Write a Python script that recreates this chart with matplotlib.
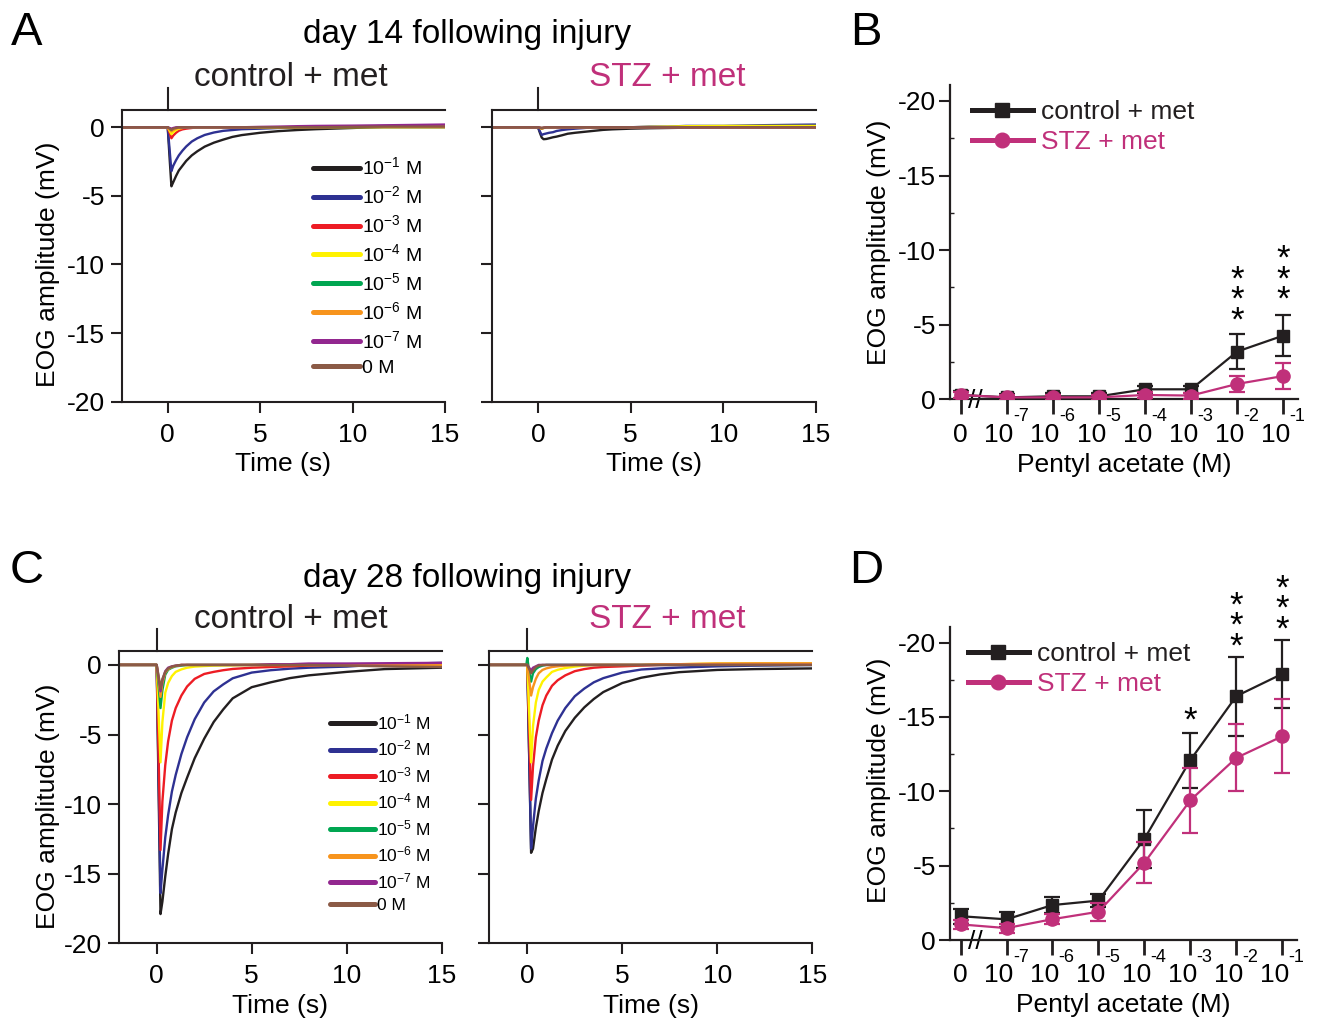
import matplotlib
matplotlib.use('Agg')
import matplotlib.pyplot as plt
from matplotlib import transforms
from matplotlib.lines import Line2D

plt.rcParams['font.family'] = ['Liberation Sans', 'DejaVu Sans']
plt.rcParams['axes.unicode_minus'] = False
plt.rcParams['mathtext.fontset'] = 'custom'
plt.rcParams['mathtext.rm'] = 'Liberation Sans'
plt.rcParams['mathtext.it'] = 'Liberation Sans'
plt.rcParams['mathtext.default'] = 'regular'

# ---------------- data ----------------
conc_legend = ['10$^{-1}$ M', '10$^{-2}$ M', '10$^{-3}$ M', '10$^{-4}$ M',
               '10$^{-5}$ M', '10$^{-6}$ M', '10$^{-7}$ M', '0 M']
t_trace = [-2.5, -0.05, 0.0, 0.1, 0.2, 0.3, 0.45, 0.6, 0.8, 1.0, 1.3, 1.6,
           2.0, 2.5, 3.0, 3.5, 4.0, 5.0, 6.0, 7.0, 8.0, 10.0, 12.0, 15.0]
stim_time = 0.0
time_ticks = [0, 5, 10, 15]
amp_ticks = [0, -5, -10, -15, -20]

# day 14, control + met (mV), one list per concentration 10^-1 ... 0 M
d14_ctrl = [
    [0, 0, 0, -2.2, -4.3, -4.0, -3.55, -3.15, -2.8, -2.45, -2.05, -1.75, -1.41, -1.12, -0.9, -0.7, -0.57, -0.4, -0.28, -0.2, -0.14, -0.05, 0.05, 0.1],
    [0, 0, 0, -1.6, -3.2, -2.8, -2.4, -2.05, -1.7, -1.4, -1.04, -0.8, -0.56, -0.38, -0.26, -0.2, -0.14, -0.1, -0.05, 0.0, 0.0, 0.05, 0.1, 0.1],
    [0, 0, 0, -0.4, -0.8, -0.6, -0.4, -0.25, -0.15, -0.1, -0.05, 0, 0, 0, 0, 0, 0, 0, 0, 0, 0, 0.05, 0.05, 0.05],
    [0, 0, 0, -0.25, -0.5, -0.35, -0.2, -0.1, -0.05, 0, 0, 0, 0, 0, 0, 0, 0, 0, 0, 0, 0.03, 0.05, 0.05, 0.05],
    [0, 0, 0, -0.08, -0.15, -0.1, -0.05, 0, 0, 0, 0, 0, 0, 0, 0, 0, 0, 0, 0, 0, 0, 0, 0, 0],
    [0, 0, 0, -0.15, -0.3, -0.2, -0.1, -0.05, 0, 0, 0, 0, 0, 0, 0, 0, 0, 0, 0, 0, 0, 0, 0, 0],
    [0, 0, 0, -0.05, -0.1, -0.05, 0, 0, 0, 0, 0, 0, 0, 0, 0, 0, 0, 0.03, 0.05, 0.08, 0.1, 0.12, 0.15, 0.2],
    [0, 0, 0, -0.1, -0.2, -0.1, -0.05, 0, 0, 0, 0, 0, 0, 0, 0, 0, 0, 0, 0, 0, 0, 0.03, 0.05, 0.05],
]
# day 14, STZ + met
d14_stz = [
    [0, 0, 0, -0.4, -0.75, -0.87, -0.85, -0.8, -0.73, -0.68, -0.58, -0.47, -0.4, -0.33, -0.26, -0.19, -0.15, -0.1, -0.07, -0.05, -0.03, 0, 0, 0],
    [0, 0, 0, -0.3, -0.56, -0.5, -0.45, -0.4, -0.36, -0.27, -0.2, -0.15, -0.1, -0.05, 0, 0, 0, 0, 0.05, 0.05, 0.1, 0.1, 0.15, 0.2],
    [0, 0, 0, -0.05, -0.1, -0.05, 0, 0, 0, 0, 0, 0, 0, 0, 0, 0, 0, 0, 0, 0, 0, 0, 0, 0],
    [0, 0, 0, -0.05, -0.1, -0.05, 0, 0, 0, 0, 0, 0, 0, 0, 0, 0, 0, 0, 0.03, 0.05, 0.08, 0.1, 0.1, 0.1],
    [0, 0, 0, -0.03, -0.05, -0.03, 0, 0, 0, 0, 0, 0, 0, 0, 0, 0, 0, 0, 0, 0, 0, 0, 0, 0],
    [0, 0, 0, -0.03, -0.05, -0.03, 0, 0, 0, 0, 0, 0, 0, 0, 0, 0, 0, 0, 0, 0, 0, 0, 0, 0],
    [0, 0, 0, -0.03, -0.05, -0.03, 0, 0, 0, 0, 0, 0, 0, 0, 0, 0, 0, 0, 0, 0, 0, 0, 0, 0],
    [0, 0, 0, -0.05, -0.08, -0.05, 0, 0, 0, 0, 0, 0, 0, 0, 0, 0, 0, 0, 0, 0, 0, 0, 0, 0],
]
# day 28, control + met
d28_ctrl = [
    [0, 0, 0, -9.0, -17.9, -17.0, -15.2, -13.6, -11.8, -10.6, -9.2, -8.1, -6.7, -5.3, -4.1, -3.2, -2.4, -1.6, -1.25, -0.95, -0.75, -0.5, -0.3, -0.2],
    [0, 0, 0, -8.0, -16.4, -14.7, -12.4, -10.8, -9.1, -7.9, -6.4, -5.2, -3.9, -2.7, -1.9, -1.4, -0.96, -0.55, -0.38, -0.27, -0.2, -0.12, 0.05, 0.15],
    [0, 0, 0, -6.5, -13.3, -9.8, -7.2, -5.5, -4.0, -3.1, -2.2, -1.55, -1.0, -0.65, -0.5, -0.38, -0.29, -0.2, -0.15, -0.1, -0.05, 0.0, 0.0, 0.05],
    [0, 0, 0, -3.5, -7.0, -4.1, -2.0, -1.3, -0.8, -0.5, -0.32, -0.2, -0.12, -0.08, -0.05, -0.04, -0.03, 0, 0, 0, 0, 0, 0, 0],
    [0, 0, 0, -1.5, -3.1, -1.8, -0.7, -0.35, -0.2, -0.1, -0.05, 0, 0, 0, 0, 0, 0, 0, 0, 0, 0, 0, 0, 0],
    [0, 0, 0, -1.1, -2.3, -1.3, -0.55, -0.3, -0.15, -0.08, 0, 0, 0, 0, 0, 0, 0, 0, 0, 0, 0, 0, 0, 0],
    [0, 0, 0, -0.9, -1.9, -1.1, -0.45, -0.2, -0.1, -0.05, 0, 0, 0, 0, 0, 0, 0, 0, 0.05, 0.05, 0.1, 0.1, 0.12, 0.15],
    [0, 0, 0, -0.8, -1.7, -1.0, -0.5, -0.25, -0.12, -0.05, 0, 0, 0, 0, 0, 0, 0, 0, 0, 0, 0, -0.05, -0.1, -0.15],
]
# day 28, STZ + met
d28_stz = [
    [0, 0, 0, -6.7, -13.5, -13.2, -11.7, -10.5, -9.2, -8.2, -6.8, -5.8, -4.75, -3.8, -3.05, -2.45, -1.95, -1.3, -0.92, -0.68, -0.52, -0.36, -0.3, -0.25],
    [0, 0, 0, -6.5, -13.2, -11.6, -9.6, -8.3, -6.9, -6.0, -4.9, -4.0, -3.1, -2.25, -1.7, -1.25, -0.95, -0.55, -0.33, -0.25, -0.19, -0.1, -0.05, 0.0],
    [0, 0, 0, -4.8, -9.7, -7.3, -5.2, -4.0, -2.9, -2.2, -1.5, -1.1, -0.75, -0.45, -0.3, -0.2, -0.15, -0.1, -0.05, 0.0, 0.0, 0.05, 0.1, 0.1],
    [0, 0, 0, -3.5, -7.0, -4.4, -2.7, -1.8, -1.2, -0.9, -0.5, -0.35, -0.22, -0.12, -0.05, 0, 0, 0, 0, 0.05, 0.05, 0.1, 0.1, 0.1],
    [0, 0, 0.5, -0.5, -1.2, -0.6, -0.3, -0.15, -0.05, 0, 0, 0, 0, 0, 0, 0, 0, 0, 0, 0, 0, 0, 0, 0],
    [0, 0, 0, -1.1, -2.2, -1.6, -1.0, -0.6, -0.36, -0.25, -0.15, -0.1, -0.05, 0, 0, 0, 0, 0, 0, 0.05, 0.05, 0.1, 0.1, 0.1],
    [0, 0, 0, -0.2, -0.4, -0.2, -0.1, 0, 0, 0, 0, 0, 0, 0, 0, 0, 0, 0, 0, 0, 0, 0, 0, 0],
    [0, 0, 0, -0.3, -0.6, -0.4, -0.15, -0.05, 0, 0, 0, 0, 0, 0, 0, 0, 0, 0, 0, 0, 0, 0, 0, 0],
]

# dose-response (mean EOG amplitude, mV, and SEM)
dose_pos = [0, 1, 2, 3, 4, 5, 6, 7]
conc_base = ['0', '10', '10', '10', '10', '10', '10', '10']
conc_exp = ['', '-7', '-6', '-5', '-4', '-3', '-2', '-1']
dose_yticks = [0, -5, -10, -15, -20]

b_ctrl_mean = [-0.29, -0.13, -0.2, -0.2, -0.67, -0.67, -3.2, -4.27]
b_ctrl_sem = [0.25, 0.2, 0.2, 0.2, 0.25, 0.25, 1.2, 1.4]
b_stz_mean = [-0.29, -0.13, -0.13, -0.13, -0.29, -0.25, -1.03, -1.56]
b_stz_sem = [0.2, 0.15, 0.15, 0.15, 0.2, 0.2, 0.56, 0.87]
# significance: position, number of stars, level of the middle star
b_star_x = [6, 7]
b_star_n = [3, 3]
b_star_y = [-7.1, -8.46]

d_ctrl_mean = [-1.6, -1.39, -2.35, -2.65, -6.8, -12.1, -16.4, -17.9]
d_ctrl_sem = [0.5, 0.5, 0.55, 0.45, 1.95, 1.85, 2.65, 2.3]
d_stz_mean = [-1.05, -0.8, -1.4, -1.9, -5.2, -9.4, -12.25, -13.7]
d_stz_sem = [0.3, 0.3, 0.35, 0.6, 1.4, 2.2, 2.25, 2.5]
d_star_x = [5, 6, 7]
d_star_n = [1, 3, 3]
d_star_y = [-15.2, -21.55, -22.7]

for series in (d14_ctrl, d14_stz, d28_ctrl, d28_stz):
    for s in series:
        assert len(s) == len(t_trace), len(s)

# ---------------- style ----------------
INK = '#231f20'
MAG = '#c0307a'
trace_colors = ['#231f20', '#2e3192', '#ed1c24', '#fff200',
                '#00a651', '#f7941d', '#92278f', '#8b5a46']

W, H = 1319, 1026
fig = plt.figure(figsize=(W / 100, H / 100), dpi=100)


def add_ax(x0, x1, y0, y1):
    return fig.add_axes([x0 / W, 1 - y1 / H, (x1 - x0) / W, (y1 - y0) / H])


def trace_panel(ax, data, xlim, ylim, show_y, legend=None):
    for vals, col, lab in zip(data, trace_colors, conc_legend):
        ax.plot(t_trace, vals, color=col, lw=1.7, label=lab)
    ax.set_xlim(*xlim)
    ax.set_ylim(*ylim)
    ax.spines['right'].set_visible(False)
    for s in ('left', 'bottom', 'top'):
        ax.spines[s].set_linewidth(1.5)
        ax.spines[s].set_color(INK)
    ax.set_xticks(time_ticks)
    ax.set_yticks(amp_ticks)
    ax.tick_params(axis='both', direction='out', length=8, width=1.5, color=INK,
                   labelsize=19, top=False, right=False)
    ax.tick_params(axis='x', pad=7)
    ax.tick_params(axis='y', pad=4)
    if not show_y:
        ax.set_yticklabels([])
    ax.set_xlabel('Time (s)', fontsize=19, labelpad=4)
    ax.axvline(stim_time, ymin=1.0, ymax=1.075, clip_on=False, color=INK, lw=1.5)
    if show_y:
        ax.set_ylabel('EOG amplitude (mV)', fontsize=19)
    if legend is not None:
        fs, anchor, hl, ls = legend
        handles = [Line2D([], [], color=c, lw=3.6, solid_capstyle='round') for c in trace_colors]
        ax.legend(handles, conc_legend, loc='upper left', bbox_to_anchor=anchor,
                  frameon=False, fontsize=fs, handlelength=hl, handletextpad=0.1,
                  labelspacing=ls, borderpad=0, borderaxespad=0)


def dose_panel(ax, cm, cs, sm, ss, sx, sn, sy, leg_anchor):
    ax.errorbar(dose_pos, cm, yerr=cs, fmt='none', ecolor=INK, elinewidth=1.6,
                capsize=6, capthick=1.6, zorder=3)
    ax.plot(dose_pos, cm, color=INK, lw=1.6, marker='s', ms=9, zorder=4)
    ax.errorbar(dose_pos, sm, yerr=ss, fmt='none', ecolor=MAG, elinewidth=1.6,
                capsize=6, capthick=1.6, zorder=5)
    ax.plot(dose_pos, sm, color=MAG, lw=1.6, marker='o', ms=9.5, zorder=6)
    ax.set_xlim(-0.23, 7.32)
    ax.set_ylim(0, -21.07)
    ax.spines['top'].set_visible(False)
    ax.spines['right'].set_visible(False)
    for s in ('left', 'bottom'):
        ax.spines[s].set_linewidth(1.6)
        ax.spines[s].set_color(INK)
    ax.set_yticks(dose_yticks)
    ax.set_yticks([-2.5, -7.5, -12.5, -17.5], minor=True)
    ax.tick_params(axis='y', which='major', direction='out', length=8, width=1.5,
                   labelsize=19, pad=2, color=INK)
    ax.tick_params(axis='y', which='minor', direction='in', length=3, width=1, color=INK)
    ax.set_xticks(dose_pos)
    ax.set_xticklabels([])
    ax.tick_params(axis='x', direction='out', length=11, width=2, color=INK)
    blend = transforms.blended_transform_factory(ax.transData, ax.transAxes)
    for p, b, e in zip(dose_pos, conc_base, conc_exp):
        if e:
            tb = transforms.offset_copy(blend, fig=fig, x=5, y=-30.5, units='points')
            ax.text(p, 0, b, transform=tb, ha='right', va='baseline', fontsize=19)
            te = transforms.offset_copy(blend, fig=fig, x=4.5, y=-15.5, units='points')
            ax.text(p, 0, e, transform=te, ha='left', va='baseline', fontsize=13)
        else:
            tb = transforms.offset_copy(blend, fig=fig, x=0, y=-30.5, units='points')
            ax.text(p, 0, b, transform=tb, ha='center', va='baseline', fontsize=19)
    ax.annotate('//', xy=(0.33, 0), xytext=(0, -6.5), textcoords='offset points',
                ha='center', va='baseline', fontsize=19, annotation_clip=False,
                bbox=dict(boxstyle='square,pad=0', fc='white', ec='none'), zorder=2)
    for x, n, y in zip(sx, sn, sy):
        ax.annotate('\n'.join(['*'] * n), xy=(x, y), xytext=(0, -4.9),
                    textcoords='offset points', ha='center', va='center',
                    fontsize=25, linespacing=0.52, annotation_clip=False)
    ax.set_ylabel('EOG amplitude (mV)', fontsize=19, labelpad=4)
    ax.set_xlabel('Pentyl acetate (M)', fontsize=19, labelpad=24)
    handles = [Line2D([], [], color=INK, lw=3.6, marker='s', ms=10),
               Line2D([], [], color=MAG, lw=3.6, marker='o', ms=10.5)]
    ax.legend(handles, ['control + met', 'STZ + met'], loc='upper left',
              bbox_to_anchor=leg_anchor, frameon=False, fontsize=19,
              handlelength=2.3, handletextpad=0.3, labelspacing=0.22,
              borderpad=0, borderaxespad=0, labelcolor=[INK, MAG])


# Panel A
axA1 = add_ax(121.5, 445, 110, 401.7)
trace_panel(axA1, d14_ctrl, (-2.5, 15), (-20, 1.26), True, (14, (0.592, 0.84), 2.4, 0.36))
axA2 = add_ax(491.7, 816, 110, 401.7)
trace_panel(axA2, d14_stz, (-2.5, 15), (-20, 1.26), False)

# Panel C
axC1 = add_ax(118.7, 441.7, 651, 943.3)
trace_panel(axC1, d28_ctrl, (-2, 15), (-20, 1.0), True, (12.5, (0.654, 0.79), 2.6, 0.38))
axC2 = add_ax(489.3, 812.3, 651, 943.3)
trace_panel(axC2, d28_stz, (-2, 15), (-20, 1.0), False)

for ax, yc in ((axA1, 264), (axC1, 806)):
    ax.yaxis.set_label_coords(60 / W, 1 - yc / H, transform=fig.transFigure)

# Panels B, D
axB = add_ax(950, 1298, 85, 399.3)
dose_panel(axB, b_ctrl_mean, b_ctrl_sem, b_stz_mean, b_stz_sem,
           b_star_x, b_star_n, b_star_y, (0.063, 0.952))
axD = add_ax(950, 1297, 626.7, 940)
dose_panel(axD, d_ctrl_mean, d_ctrl_sem, d_stz_mean, d_stz_sem,
           d_star_x, d_star_n, d_star_y, (0.052, 0.95))
for ax, yc in ((axB, 242), (axD, 780)):
    ax.yaxis.set_label_coords(891 / W, 1 - yc / H, transform=fig.transFigure)

# Titles and panel letters
def ftext(x, y, s, **kw):
    fig.text(x / W, 1 - y / H, s, **kw)

ftext(467, 34, 'day 14 following injury', fontsize=24, ha='center', va='center')
ftext(291, 77, 'control + met', fontsize=24, ha='center', va='center', color=INK)
ftext(667, 77, 'STZ + met', fontsize=24, ha='center', va='center', color=MAG)
ftext(467, 578, 'day 28 following injury', fontsize=24, ha='center', va='center')
ftext(291, 620, 'control + met', fontsize=24, ha='center', va='center', color=INK)
ftext(667, 620, 'STZ + met', fontsize=24, ha='center', va='center', color=MAG)
for lab, x, y in (('A', 27, 33), ('B', 866, 33), ('C', 27, 571), ('D', 866, 571)):
    ftext(x, y, lab, fontsize=34, ha='center', va='center')

fig.savefig('out.png', dpi=100)
